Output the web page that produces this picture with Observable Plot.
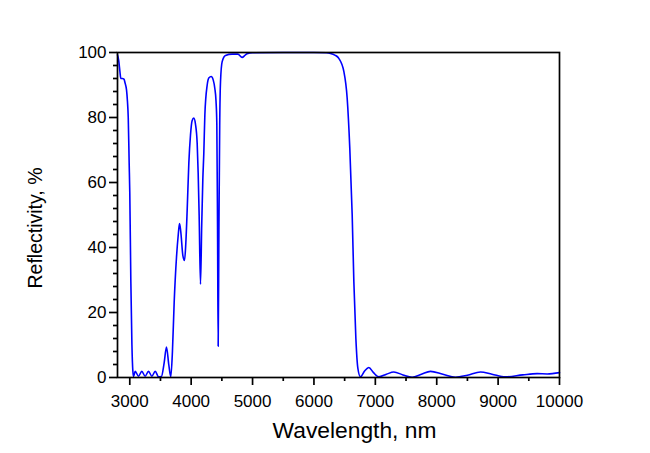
<!DOCTYPE html>
<html><head><meta charset="utf-8">
<script src="https://cdn.jsdelivr.net/npm/d3@7"></script>
<script src="https://cdn.jsdelivr.net/npm/@observablehq/plot@0.6"></script>
<style>body{margin:0;background:#fff}</style>
</head><body><div id="chart"></div>
<script>
const wavelength = [2800,2820,2840,2854,2880,2905,2925,2947,2962,2975,2990,3000,3017,3035,3050,3062,
  3088,3142,3196,3250,3305,3360,3414,3470,3515,3560,3598,3635,3668,3695,3723,3761,3790,3810,3830,3865,3892,3912,3935,3962,3989,4015,4043,4070,4098,4114,4130,4152,4172,4190,4206,4223,4261,4290,4326,4360,4385,4405,4418,4430,4440,4452,4465,4478,4505,4559,4667,4760,4830,4880,4911,5000,5500,6000,6200,6270,6340,6405,6487,6541,6584,6623,6650,6683,6715,6758,6825,6894,6970,7057,7180,7301,7450,7599,7750,7898,8100,8306,8500,8713,8900,9120,9400,9636,9800,10000];
const reflectivity = [99.3,97.5,94,92,92,91.8,90.5,88.5,85,80,66,57,30,10,2,0.3,
  1.9,0.4,1.9,0.4,1.9,0.4,1.9,0.2,0.3,4.5,9.4,4,0.2,8,23,37,44,47.4,45,37.5,36,41,51.5,66,74.6,79,79.8,78,72,63,50,28.7,47,61,69,80.8,90,92.2,92.6,91.5,89,85,78,45,9.6,45,78,91,97.2,99.1,99.5,99.5,98.5,99.2,99.6,99.9,100,100,99.9,99.7,99.2,98.2,94.2,86,70.5,50,29.5,12,2.9,0.2,2,3.1,1.5,0.2,1,1.7,0.8,0.1,1,1.9,1,0.1,0.7,1.7,1,0.2,0.8,1.2,1.1,1.5];
const xTicks = [3000,4000,5000,6000,7000,8000,9000,10000];
const xMinorTicks = [3500,4500,5500,6500,7500,8500,9500];
const yTicks = [0,20,40,60,80,100];
const yMinorTicks = [4,8,12,16,24,28,32,36,44,48,52,56,64,68,72,76,84,88,92,96];
const xTitle = "Wavelength, nm";
const yTitle = "Reflectivity, %";

const data = wavelength.map((w, i) => ({w, r: reflectivity[i]}));

const chart = Plot.plot({
  width: 650, height: 453,
  marginLeft: 117, marginRight: 91, marginTop: 52, marginBottom: 76,
  style: {fontFamily: "'Liberation Sans', Arial, sans-serif", fontSize: "17px", color: "black", background: "white"},
  x: {domain: [2800, 10000]},
  y: {domain: [0, 100]},
  marks: [
    Plot.line(data, {x: "w", y: "r", stroke: "#0000ff", strokeWidth: 1.6, curve: "monotone-x"}),
    Plot.frame({stroke: "black", strokeWidth: 1.7}),
    Plot.axisX(xTicks, {tickSize: 8, tickPadding: 9, strokeWidth: 1.7, tickFormat: d => String(d), label: null}),
    Plot.axisX(xMinorTicks, {tickSize: 4, strokeWidth: 1.7, tickFormat: () => "", label: null}),
    Plot.axisY(yTicks, {tickSize: 8, tickPadding: 3, strokeWidth: 1.7, tickFormat: d => String(d), label: null}),
    Plot.axisY(yMinorTicks, {tickSize: 4, strokeWidth: 1.7, tickFormat: () => "", label: null}),
    Plot.text([xTitle], {frameAnchor: "bottom", dy: 60, dx: 16, fontSize: 22.8, text: d => d}),
    Plot.text([yTitle], {frameAnchor: "left", textAnchor: "middle", dx: -82, dy: 13, rotate: -90, fontSize: 19.5, text: d => d})
  ]
});
document.getElementById("chart").append(chart);
</script>
</body></html>
